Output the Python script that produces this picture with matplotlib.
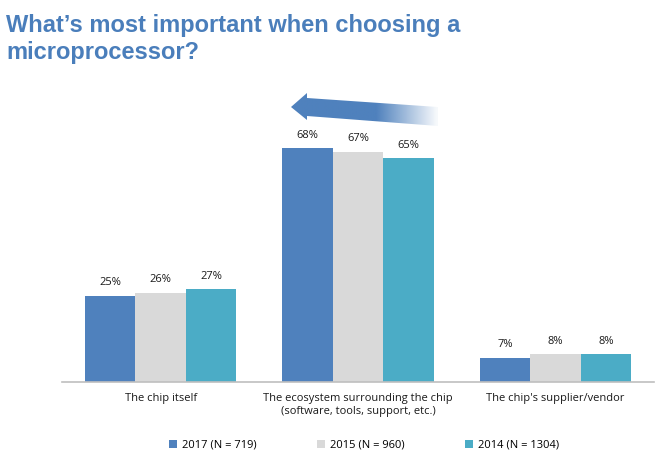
import numpy as np
import matplotlib
matplotlib.use("Agg")
import matplotlib.pyplot as plt
from matplotlib.patches import Polygon

# data
categories = ["The chip itself",
              "The ecosystem surrounding the chip\n(software, tools, support, etc.)",
              "The chip's supplier/vendor"]
series_names = ["2017 (N = 719)", "2015 (N = 960)", "2014 (N = 1304)"]
v2017 = [25, 68, 7]
v2015 = [26, 67, 8]
v2014 = [27, 65, 8]
colors = ["#4F81BD", "#D9D9D9", "#4BACC6"]

plt.rcParams['font.family'] = ['Open Sans', 'DejaVu Sans']

fig = plt.figure(figsize=(6.55, 4.66), dpi=100)
ax = fig.add_axes([62/655, 84/466, 592/655, 302/466])

index = np.arange(len(categories))
bar_width = 0.256
for i, (vals, name, c) in enumerate(zip([v2017, v2015, v2014], series_names, colors)):
    x = index + (i - 1) * bar_width
    bars = ax.bar(x, vals, bar_width, color=c, label=name, zorder=2)
    for b, v in zip(bars, vals):
        ax.text(b.get_x() + b.get_width() / 2, v + 2.2, f"{v}%",
                ha="center", va="bottom", fontsize=8, color="#1a1a1a")

ax.set_xlim(-0.5, 2.5)
ax.set_ylim(0, 87.8)
ax.set_xticks(index)
ax.set_xticklabels(categories, fontsize=8, color="#1a1a1a", linespacing=1.25)
ax.tick_params(axis="x", length=0, pad=8)
ax.set_yticks([])
for s in ["left", "right", "top"]:
    ax.spines[s].set_visible(False)
ax.spines["bottom"].set_color("#BFBFBF")
ax.spines["bottom"].set_linewidth(1.2)

# fading arrow (decoration), drawn in figure pixel space
def px(xp, yp):
    return (xp / 655, 1 - yp / 466)

pts = [px(291, 107), px(307, 93), px(307, 98), px(438, 107),
       px(438, 126), px(307, 116), px(307, 120)]
arrow = Polygon(pts, closed=True, transform=fig.transFigure, facecolor="none",
                edgecolor="none")
fig.add_artist(arrow)
grad = np.zeros((1, 256, 4))
rgb = matplotlib.colors.to_rgb("#4F81BD")
grad[..., 0], grad[..., 1], grad[..., 2] = rgb
t = np.linspace(0, 1, 256)
grad[0, :, 3] = np.clip(1 - (t - 0.58) / 0.42, 0.05, 1)
x0, y0 = px(289, 130)
x1, y1 = px(440, 90)
gax = fig.add_axes([x0, y0, x1 - x0, y1 - y0])
gax.axis("off")
im = gax.imshow(grad, aspect="auto", extent=[x0, x1, y0, y1],
                transform=fig.transFigure)
im.set_clip_path(arrow)

fig.text(6/655, 1 - 14/466, "What\u2019s most important when choosing a\nmicroprocessor?",
         fontsize=17, fontweight="bold", color="#4A7EBB",
         family=["Liberation Sans", "DejaVu Sans"], va="top",
         linespacing=1.2)

handles, labels = ax.get_legend_handles_labels()
fig.legend(handles, labels, loc="center", bbox_to_anchor=(364/655, 1 - 445/466),
           ncol=3, frameon=False, fontsize=8, handlelength=0.7, handleheight=0.7,
           columnspacing=5.5, handletextpad=0.4)

fig.savefig("out.png", dpi=100)
